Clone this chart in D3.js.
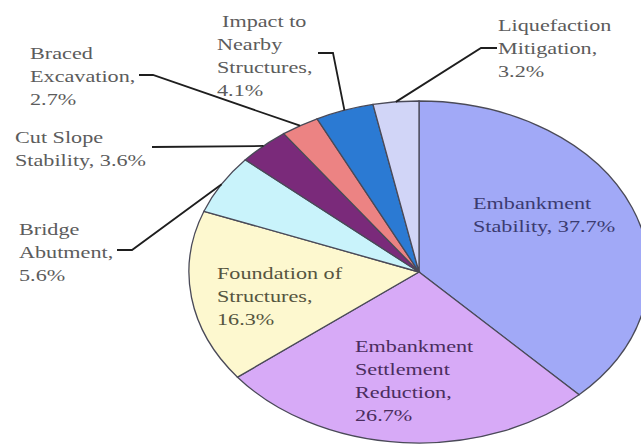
<!DOCTYPE html>
<html>
<head>
<meta charset="utf-8">
<script src="https://cdn.jsdelivr.net/npm/d3@7"></script>
<style>
  html, body { margin: 0; padding: 0; background: #fff; }
  svg { display: block; }
</style>
</head>
<body>
<svg id="chart" width="641" height="444"></svg>
<script>
// Share of applications (percent), clockwise from 12 o'clock
const categories = [
  "Embankment Stability",
  "Embankment Settlement Reduction",
  "Foundation of Structures",
  "Bridge Abutment",
  "Cut Slope Stability",
  "Braced Excavation",
  "Impact to Nearby Structures",
  "Liquefaction Mitigation"
];
const shares = [37.7, 26.7, 16.3, 5.6, 3.6, 2.7, 4.1, 3.2];
const sliceColors = ["#a1a9f7", "#d7aaf7", "#fdf8cf", "#c9f3fb", "#7a2a7a", "#ec8383", "#2b7ad3", "#d1d5f7"];

// Label layout: first baseline, words per line, text colour, leader polyline (text side)
const labelLayout = [
  { x: 473, y: 209, wrap: [1, 2], fill: "#3b3b70" },
  { x: 355, y: 352, wrap: [1, 1, 1, 1], fill: "#4a2d5e" },
  { x: 217, y: 279, wrap: [2, 1, 1], fill: "#55553f" },
  { x: 19, y: 235, wrap: [1, 1, 1], fill: "#5c5c5c", leader: [[117, 250], [132, 250]] },
  { x: 15, y: 143, wrap: [2, 2], fill: "#5c5c5c", leader: [[152, 147]] },
  { x: 30, y: 59, wrap: [1, 1, 1], fill: "#5c5c5c", leader: [[139, 75], [153, 75]] },
  { x: 217, y: 27, wrap: [2, 1, 1, 1], fill: "#5c5c5c", indent: [5, 0, 0, 0], leader: [[318, 53], [333, 53]] },
  { x: 498, y: 31, wrap: [1, 1, 1], fill: "#5c5c5c", leader: [[497, 48], [481, 48]] }
];

const cx = 419, cy = 272, rx = 230, ry = 171;
const xStretch = rx / ry;
const fontSize = 16.5, lineGap = 23;

const svg = d3.select("#chart");

const data = categories.map((c, i) => ({ name: c, value: shares[i], color: sliceColors[i], layout: labelLayout[i] }));

const pie = d3.pie().value(d => d.value).sort(null);
const arcs = pie(data);
const arc = d3.arc().innerRadius(0).outerRadius(1);

// Elliptical pie: unit-radius arcs scaled to the ellipse
const pieG = svg.append("g").attr("transform", `translate(${cx},${cy}) scale(${rx},${ry})`);
pieG.selectAll("path")
  .data(arcs)
  .join("path")
  .attr("d", arc)
  .attr("fill", d => d.data.color)
  .attr("stroke", "#4a4a58")
  .attr("stroke-width", 1.3)
  .attr("vector-effect", "non-scaling-stroke");

// Point on the ellipse edge at a slice's mid angle
function edgePoint(d) {
  const a = (d.startAngle + d.endAngle) / 2;
  return [cx + rx * Math.sin(a), cy - ry * Math.cos(a)];
}

// Leader lines
const leaderLine = d3.line();
svg.append("g").selectAll("path")
  .data(arcs.filter(d => d.data.layout.leader))
  .join("path")
  .attr("d", d => leaderLine([...d.data.layout.leader, edgePoint(d)]))
  .attr("fill", "none")
  .attr("stroke", "#1e1e1e")
  .attr("stroke-width", 1.8);

// Labels: "Category, value%" wrapped into lines, one text element per line
function labelLines(d) {
  const words = `${d.name}, ${d.value.toFixed(1)}%`.split(" ");
  const lines = [];
  let k = 0;
  d.layout.wrap.forEach((n, i) => {
    lines.push({
      text: words.slice(k, k + n).join(" "),
      x: d.layout.x + (d.layout.indent ? d.layout.indent[i] : 0),
      y: d.layout.y + i * lineGap,
      fill: d.layout.fill
    });
    k += n;
  });
  return lines;
}

svg.append("g").selectAll("text")
  .data(data.flatMap(labelLines))
  .join("text")
  .attr("transform", d => `translate(${d.x},${d.y}) scale(${xStretch},1)`)
  .style("font-family", '"Liberation Serif"')
  .style("font-size", fontSize + "px")
  .attr("fill", d => d.fill)
  .text(d => d.text);
</script>
</body>
</html>
